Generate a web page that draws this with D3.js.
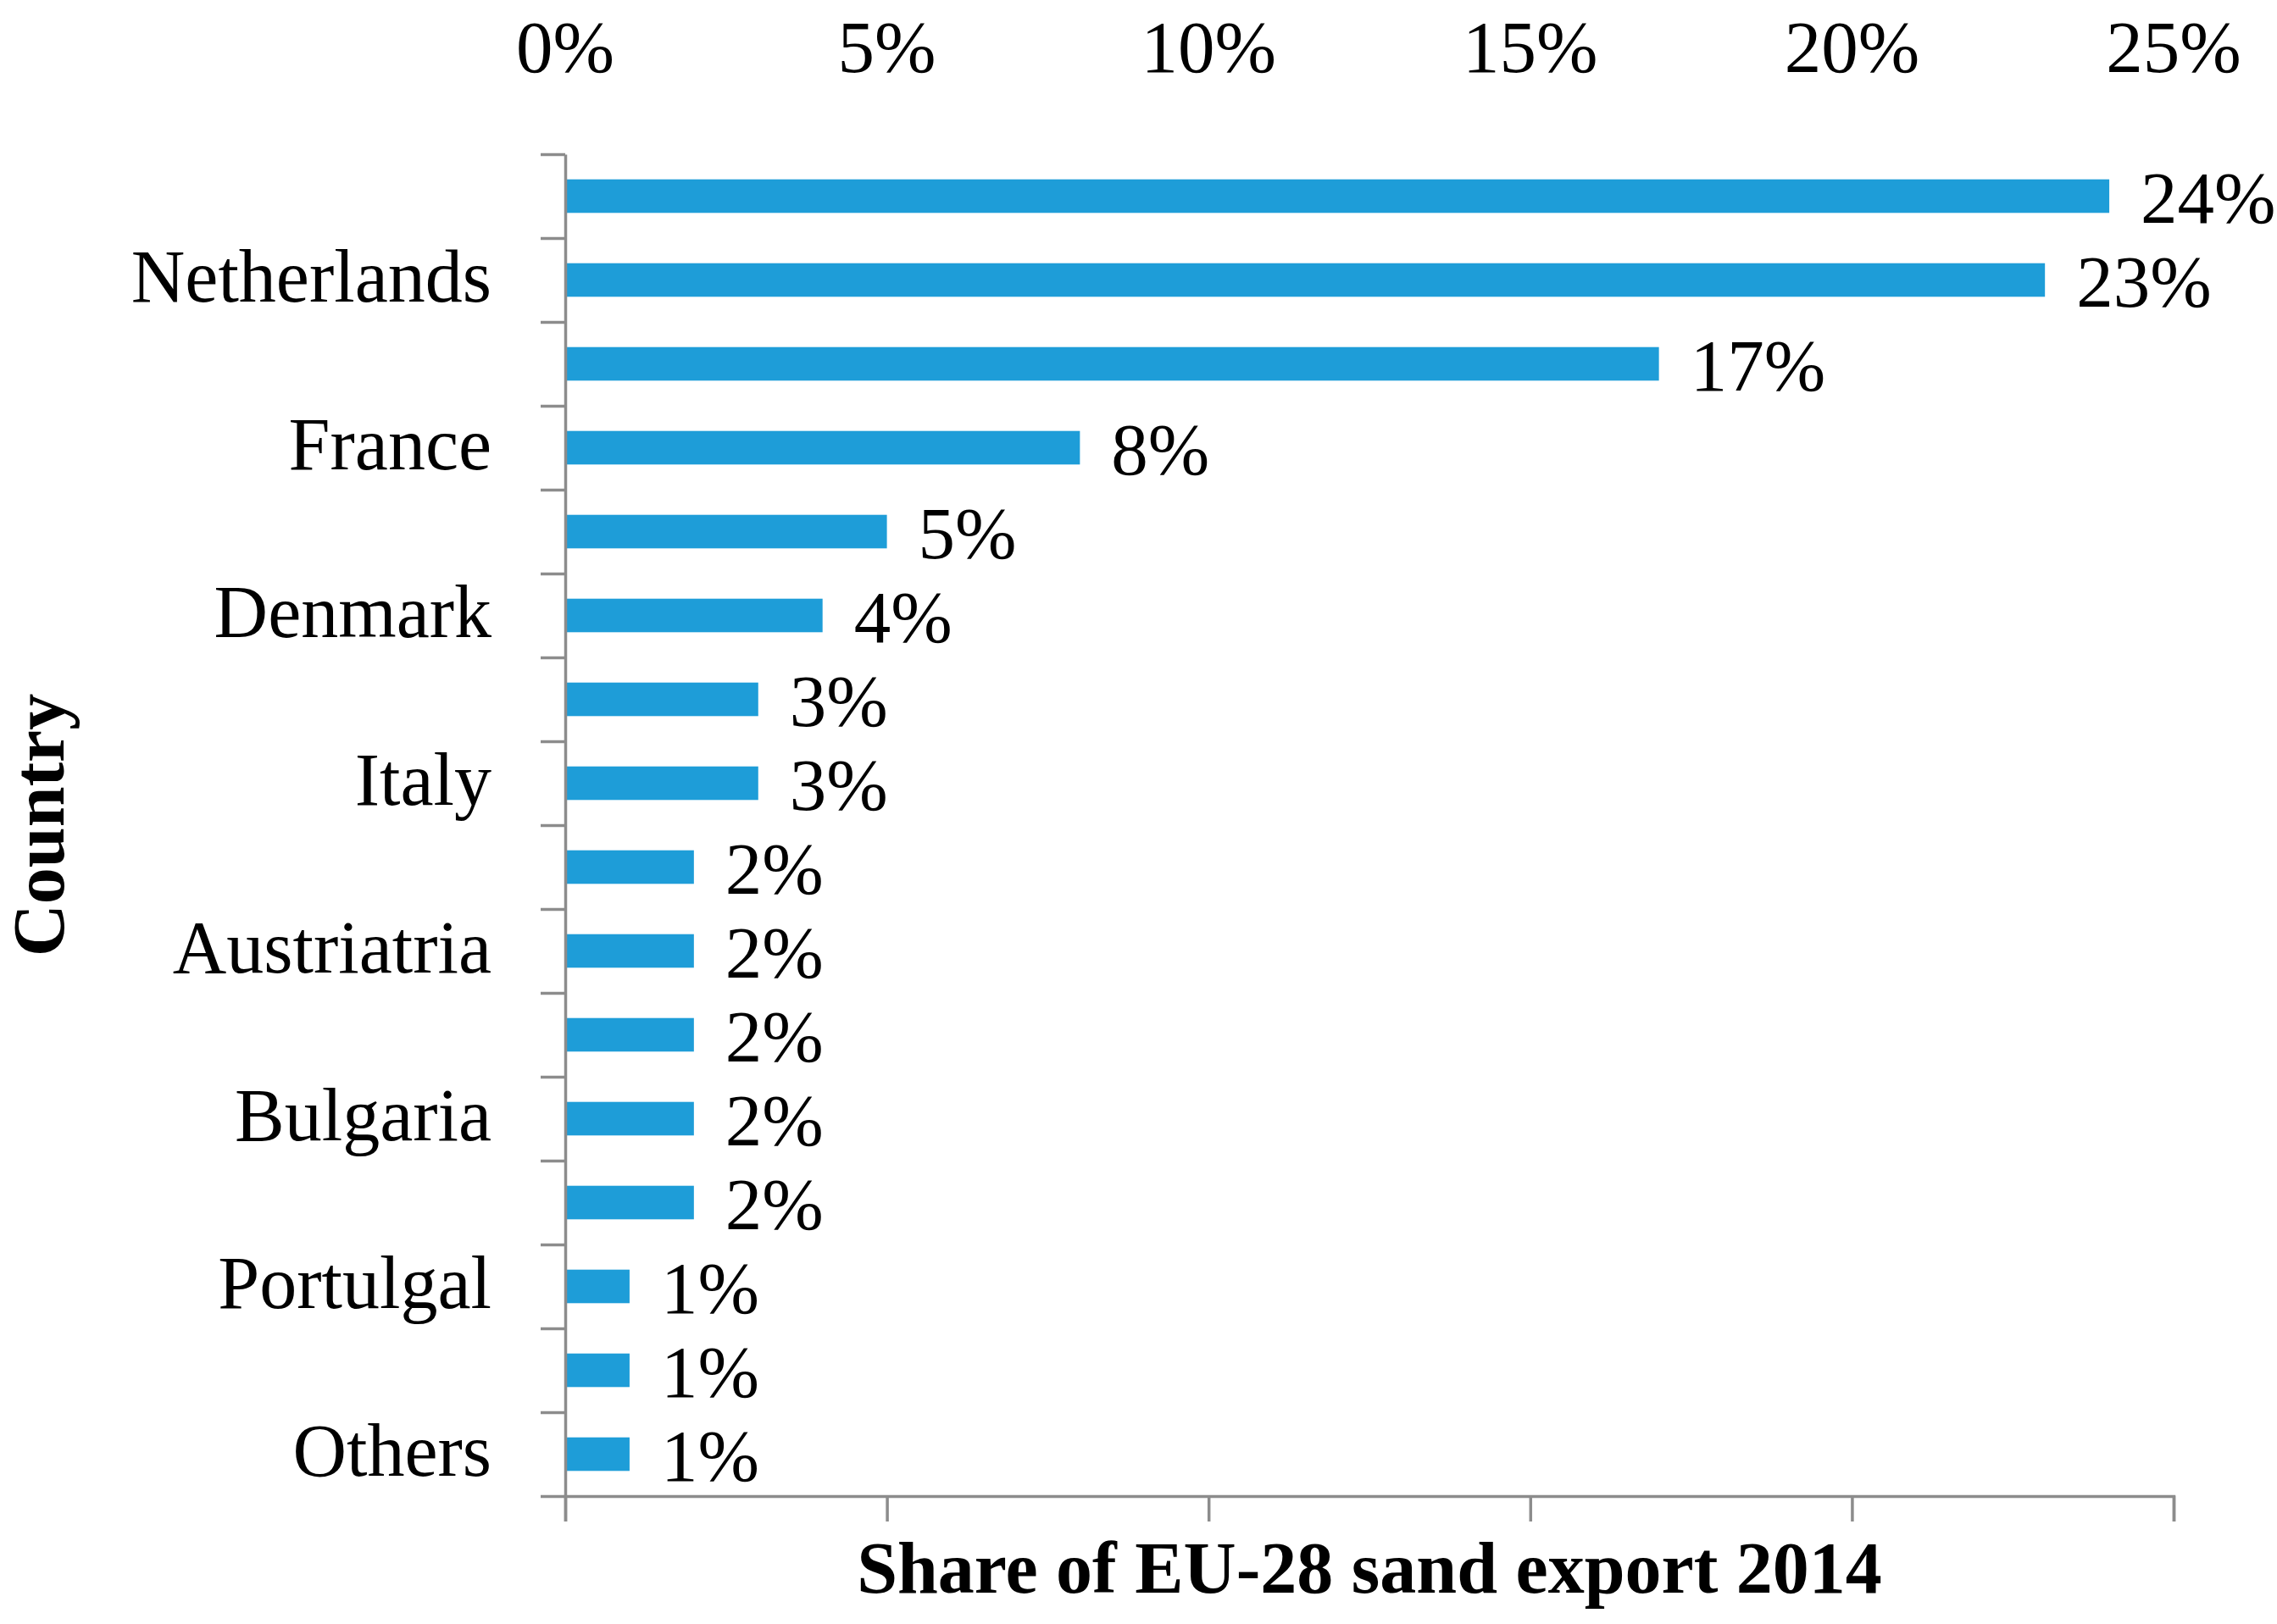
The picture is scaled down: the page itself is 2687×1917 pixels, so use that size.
<!DOCTYPE html>
<html>
<head>
<meta charset="utf-8">
<script src="https://cdn.jsdelivr.net/npm/d3@7"></script>
<style>
  body { margin: 0; background: #fff; }
  text { font-family: "Palatino Linotype", "Book Antiqua", Palatino, "Liberation Serif", serif; }
</style>
</head>
<body>
<div id="chart"></div>
<script>
// labels shown on the category axis (only every other bar is labelled)
const countries = ["", "Netherlands", "", "France", "", "Denmark", "", "Italy",
  "", "Austriatria", "", "Bulgaria", "", "Portulgal", "", "Others"];
// share of EU-28 sand export 2014, in %
const shares = [24, 23, 17, 8, 5, 4, 3, 3, 2, 2, 2, 2, 2, 1, 1, 1];
const xTicks = [0, 5, 10, 15, 20, 25];

const width = 2687, height = 1917;
const margin = { top: 182, right: 122, bottom: 151, left: 667 };

const svg = d3.select("#chart")
  .append("svg")
  .attr("width", width)
  .attr("height", height);

const x = d3.scaleLinear()
  .domain([0, 25])
  .range([margin.left, width - margin.right]);

// band scale for the bars
const y = d3.scaleBand()
  .domain(d3.range(shares.length))
  .range([margin.top, height - margin.bottom])
  .paddingInner(0.6)
  .paddingOuter(0.3);

// linear scale for the tick marks between bars
const yEdge = d3.scaleLinear()
  .domain([0, shares.length])
  .range([margin.top, height - margin.bottom]);

const axisColor = "#8c8c8c";

// bars
svg.append("g")
  .selectAll("rect")
  .data(shares)
  .join("rect")
  .attr("x", x(0))
  .attr("y", (d, i) => y(i))
  .attr("width", d => x(d) - x(0))
  .attr("height", y.bandwidth())
  .attr("fill", "#1e9dd8");

// left axis with ticks at band edges
const yAxis = svg.append("g")
  .attr("transform", `translate(${x(0)},0)`)
  .call(d3.axisLeft(yEdge)
    .tickValues(d3.range(shares.length + 1))
    .tickSize(29)
    .tickSizeOuter(0)
    .tickFormat(""));
yAxis.selectAll("path, line").attr("stroke", axisColor).attr("stroke-width", 3.5);

// bottom axis
const xAxis = svg.append("g")
  .attr("transform", `translate(0,${height - margin.bottom})`)
  .call(d3.axisBottom(x)
    .tickValues(xTicks)
    .tickSize(30)
    .tickSizeOuter(30)
    .tickFormat(""));
xAxis.selectAll("path, line").attr("stroke", axisColor).attr("stroke-width", 3.5);

// tick labels along the top
svg.append("g")
  .selectAll("text")
  .data(xTicks)
  .join("text")
  .attr("x", d => x(d))
  .attr("y", 85)
  .attr("text-anchor", "middle")
  .attr("font-size", 87)
  .attr("fill", "#000")
  .text(d => d + "%");

// category labels
svg.append("g")
  .selectAll("text")
  .data(countries)
  .join("text")
  .attr("x", 580)
  .attr("y", (d, i) => y(i) + y.bandwidth() / 2 + 25)
  .attr("text-anchor", "end")
  .attr("font-size", 88)
  .attr("fill", "#000")
  .text(d => d);

// value labels
svg.append("g")
  .selectAll("text")
  .data(shares)
  .join("text")
  .attr("x", d => x(d) + 37)
  .attr("y", (d, i) => y(i) + y.bandwidth() / 2 + 31)
  .attr("font-size", 87)
  .attr("fill", "#000")
  .text(d => d + "%");

// axis titles
svg.append("text")
  .attr("x", (x(0) + x(25)) / 2)
  .attr("y", 1880)
  .attr("text-anchor", "middle")
  .attr("font-size", 86)
  .attr("font-weight", "bold")
  .text("Share of EU-28 sand export 2014");

svg.append("text")
  .attr("transform", `translate(75,${(margin.top + height - margin.bottom) / 2}) rotate(-90)`)
  .attr("text-anchor", "middle")
  .attr("font-size", 86)
  .attr("font-weight", "bold")
  .text("Country");
</script>
</body>
</html>
